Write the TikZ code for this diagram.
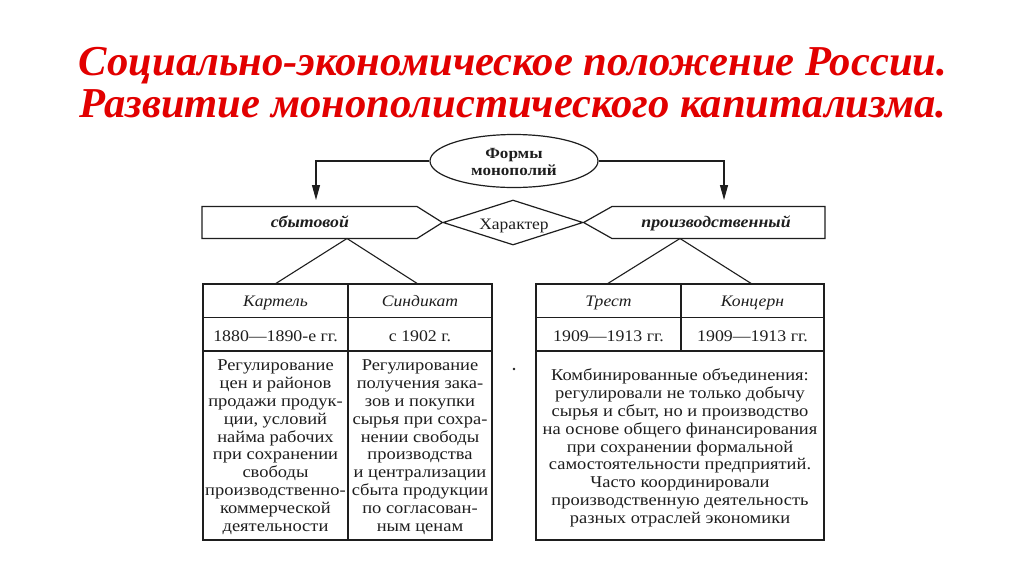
\documentclass[tikz,border=0pt]{standalone}
\usepackage{fontspec}
\usepackage{graphicx}
\setmainfont{Liberation Serif}
\usetikzlibrary{shapes.geometric,arrows.meta}
\definecolor{titlered}{RGB}{226,0,0}
\definecolor{ink}{RGB}{30,30,30}
\newcommand\sx[1]{\scalebox{1.1}[1]{#1}}
\newcommand\bodyblock[1]{\scalebox{1.12}[1]{\begin{tabular}{@{}c@{}}#1\end{tabular}}}
\begin{document}
\begin{tikzpicture}[x=1pt,y=-1pt,
  outline/.style={draw=ink,line width=1.2pt,line join=miter},
  conn/.style={draw=ink,line width=1.1pt},
  arr/.style={conn,-{Triangle[length=15pt,width=8pt]}},
  titletext/.style={text=titlered,font=\fontsize{42.6}{46}\selectfont\bfseries\itshape,anchor=base,inner sep=0pt},
  body/.style={text=ink,font=\fontsize{16.5}{17.8}\selectfont,inner sep=0pt},
  head/.style={text=ink,font=\fontsize{16}{18}\selectfont\itshape,inner sep=0pt,anchor=base},
  date/.style={text=ink,font=\fontsize{16.2}{18}\selectfont,inner sep=0pt,anchor=base},
  kind/.style={text=ink,font=\fontsize{16.2}{18}\selectfont\bfseries\itshape,inner sep=0pt,anchor=base},
  ftext/.style={text=ink,font=\fontsize{15.5}{17}\selectfont\bfseries,inner sep=0pt,anchor=base}]
\useasboundingbox[fill=white] (0,0) rectangle (1024,574);

% title
\node[titletext] (t1) at (513,75) {Социально-экономическое положение России.};
\node[titletext] (t2) at (513,117) {Развитие монополистического капитализма.};

% top ellipse
\node[ellipse,outline,minimum width=168pt,minimum height=53pt,inner sep=0pt] (forms) at (514,161) {};
\node[ftext] (f1) at (514,158) {\sx{Формы}};
\node[ftext] (f2) at (514,175.5) {\sx{монополий}};

% diamond
\node[diamond,outline,minimum width=140pt,minimum height=45pt,inner sep=0pt,aspect=3.1] (char) at (513,222.5) {};
\node[text=ink,font=\fontsize{15.9}{18}\selectfont,inner sep=0pt,anchor=base] (chartxt) at (514,229) {\sx{Характер}};

% left pointed box
\coordinate (lb1) at (202,206.5);
\coordinate (lb2) at (417,206.5);
\coordinate (lb4) at (417,238.5);
\coordinate (lb5) at (202,238.5);
\draw[outline] (lb1) -- (lb2) -- (char.west) -- (lb4) -- (lb5) -- cycle;
\node[kind] (sbyt) at (310,227.5) {\sx{сбытовой}};

% right pointed box
\coordinate (rb1) at (612,206.5);
\coordinate (rb2) at (825,206.5);
\coordinate (rb3) at (825,238.5);
\coordinate (rb4) at (612,238.5);
\draw[outline] (char.east) -- (rb1) -- (rb2) -- (rb3) -- (rb4) -- cycle;
\node[kind] (proizv) at (716,227.5) {\sx{производственный}};

% arrows from ellipse
\coordinate (la) at (316,200);
\coordinate (ra) at (724,200);
\draw[arr] (forms.west) -| (la);
\draw[arr] (forms.east) -| (ra);

% left table
\coordinate (lapex) at (347,238.5);
\coordinate (ltl) at (275,284);
\coordinate (ltr) at (418,284);
\draw[conn] (ltl) -- (lapex) -- (ltr);
\draw[outline] (203,284) rectangle (492,540);
\draw[outline] (203,317.5) -- (492,317.5);
\draw[outline] (203,351) -- (492,351);
\draw[outline] (348,284) -- (348,540);

\node[head] (kartel) at (275.5,306.5) {\sx{Картель}};
\node[head] (sindikat) at (420,306.5) {\sx{Синдикат}};
\node[date] (d1) at (275.5,341) {\sx{1880—1890-е гг.}};
\node[date] (d2) at (420,341) {\sx{с 1902 г.}};
\node[body] (b1) at (275.5,447.5) {\bodyblock{Регулирование\\цен и районов\\продажи продук-\\ции, условий\\найма рабочих\\при сохранении\\свободы\\производственно-\\коммерческой\\деятельности}};
\node[body] (b2) at (420,447.5) {\bodyblock{Регулирование\\получения зака-\\зов и покупки\\сырья при сохра-\\нении свободы\\производства\\и централизации\\сбыта продукции\\по согласован-\\ным ценам}};

% right table
\coordinate (rapex) at (680,238.5);
\coordinate (rtl) at (607,284);
\coordinate (rtr) at (752,284);
\draw[conn] (rtl) -- (rapex) -- (rtr);
\draw[outline] (536,284) rectangle (824,540);
\draw[outline] (536,317.5) -- (824,317.5);
\draw[outline] (536,351) -- (824,351);
\draw[outline] (681,284) -- (681,351);

\node[head] (trest) at (608.5,306.5) {\sx{Трест}};
\node[head] (koncern) at (752.5,306.5) {\sx{Концерн}};
\node[date] (d3) at (608.5,341) {\sx{1909—1913 гг.}};
\node[date] (d4) at (752.5,341) {\sx{1909—1913 гг.}};
\node[body] (b3) at (680,448.5) {\bodyblock{Комбинированные объединения:\\регулировали не только добычу\\сырья и сбыт, но и производство\\на основе общего финансирования\\при сохранении формальной\\самостоятельности предприятий.\\Часто координировали\\производственную деятельность\\разных отраслей экономики}};

% stray dot
\fill[ink] (514,369) circle (1.3pt);
\end{tikzpicture}
\end{document}
